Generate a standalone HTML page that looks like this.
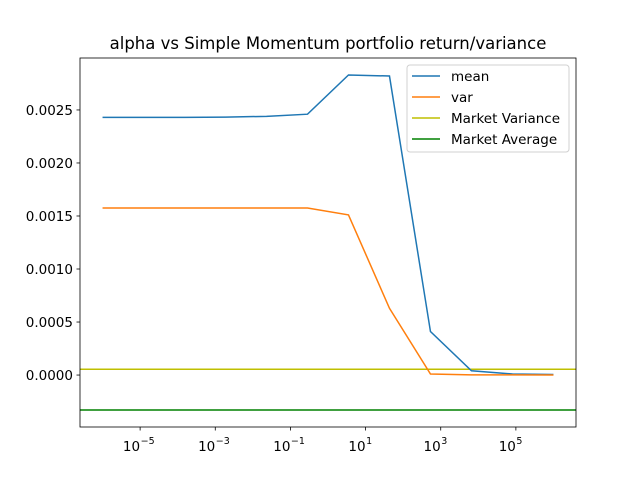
<!DOCTYPE html>
<html><head><meta charset="utf-8"><style>body{margin:0;background:#fff}svg{display:block}text{font-family:"DejaVu Sans","Liberation Sans",sans-serif}</style></head>
<body>
<svg id="chart" width="640" height="480"></svg>
<script>
const alphaExp = [-6,-4.909,-3.818,-2.727,-1.636,-0.545,0.545,1.636,2.727,3.818,4.909,6];
const meanVals = [0.00243,0.00243,0.00243,0.002432,0.00244,0.00246,0.00283,0.00282,0.00041,0.00004,0.00001,0.000005];
const varVals = [0.001575,0.001575,0.001575,0.001575,0.001575,0.001575,0.00151,0.00063,0.00001,0.000002,0.000001,0.0000005];
const marketVar = 0.000055;
const marketAvg = -0.00033;
const yTicks = [0,0.0005,0.001,0.0015,0.002,0.0025];
const yTickLabels = ["0.0000","0.0005","0.0010","0.0015","0.0020","0.0025"];
const xTicks = [-5,-3,-1,1,3,5];

const L=80,R=576,T=58,B=427, xmin=-6.6,xmax=6.6, ymin=-0.00049, ymax=0.00299;
const sx=e=>L+(e-xmin)/(xmax-xmin)*(R-L);
const sy=v=>B-(v-ymin)/(ymax-ymin)*(B-T);
const svg=document.getElementById('chart');
const NS='http://www.w3.org/2000/svg';
function mk(tag,attrs,parent){const e=document.createElementNS(NS,tag);for(const k in attrs)e.setAttribute(k,attrs[k]);(parent||svg).appendChild(e);return e;}

let t=mk('text',{x:328,y:49,'text-anchor':'middle','font-size':16.5,fill:'#000'});t.textContent='alpha vs Simple Momentum portfolio return/variance';



let hv=mk('line',{x1:L,x2:R,y1:sy(marketVar),y2:sy(marketVar),stroke:'#bfbf00','stroke-width':1.5});


let ha=mk('line',{x1:L,x2:R,y1:sy(marketAvg),y2:sy(marketAvg),stroke:'#008000','stroke-width':1.5});



function series(vals,color,name){
  const p=mk('polyline',{points:vals.map((v,i)=>sx(alphaExp[i])+','+sy(v)).join(' '),fill:'none',stroke:color,'stroke-width':1.5});
  
  
}
series(meanVals,'#1f77b4','mean-line');
series(varVals,'#ff7f0e','var-line');

let fr=mk('rect',{x:L,y:T,width:R-L,height:B-T,fill:'none',stroke:'#000','stroke-width':0.8});



yTicks.forEach((v,i)=>{
  const y=sy(v);
  mk('line',{x1:L-3.5,x2:L,y1:y,y2:y,stroke:'#000','stroke-width':0.8});
  const tx=mk('text',{x:L-7,y:y+5,'text-anchor':'end','font-size':13.5,fill:'#000'});tx.textContent=yTickLabels[i];
  
  
});
xTicks.forEach(e=>{
  const x=sx(e);
  mk('line',{x1:x,x2:x,y1:B,y2:B+3.5,stroke:'#000','stroke-width':0.8});
  const tx=mk('text',{x:x,y:B+24,'text-anchor':'end','font-size':13.5,fill:'#000'});tx.textContent='10';
  
  
  const s=mk('text',{x:x+0.5,y:B+17,'text-anchor':'start','font-size':9.5,fill:'#000'});s.textContent=(e<0?'\u2212':'')+Math.abs(e);
});

const lg=mk('g',{});


mk('rect',{x:407,y:65,width:162,height:87,rx:3,fill:'#fff',stroke:'#ccc','stroke-width':1,opacity:0.9},lg);
[['mean','#1f77b4'],['var','#ff7f0e'],['Market Variance','#bfbf00'],['Market Average','#008000']].forEach((it,i)=>{
  const y=76+i*21;
  mk('line',{x1:412,x2:440,y1:y,y2:y,stroke:it[1],'stroke-width':1.5},lg);
  const tx=mk('text',{x:451,y:y+5,'font-size':13.5,fill:'#000'},lg);tx.textContent=it[0];
  
  
});
</script>
</body></html>
